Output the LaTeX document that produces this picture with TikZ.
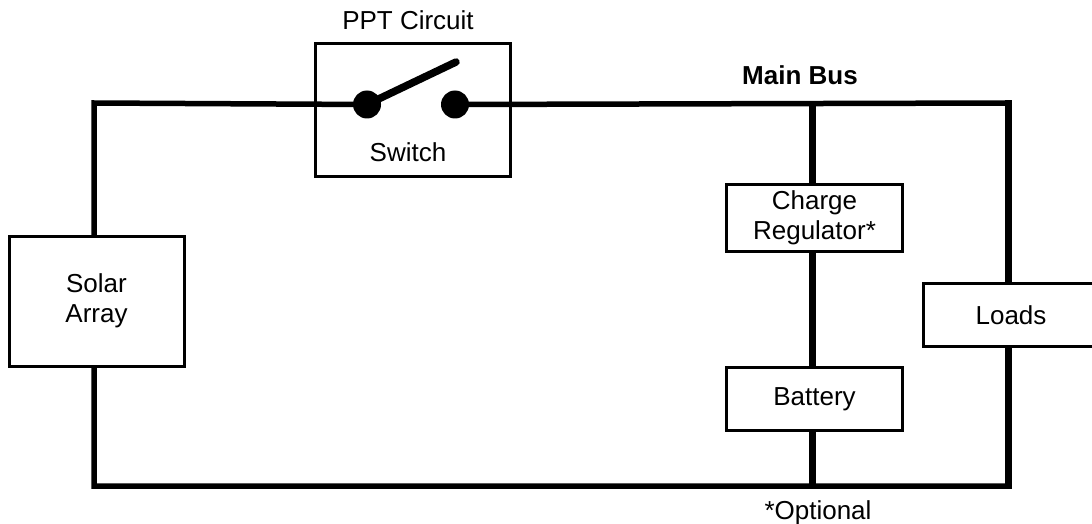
\documentclass[tikz,border=0pt]{standalone}
\usepackage{fontspec}
\setmainfont{Liberation Sans}
\begin{document}
\begin{tikzpicture}[x=1pt,y=-1pt,
 wire/.style={line width=5.5pt,line cap=butt,line join=miter,black},
 widewire/.style={line width=7pt,line cap=butt,black},
 box/.style={draw=black,line width=3pt,fill=white,inner sep=0pt,align=center,font=\fontsize{26}{30}\selectfont},
 lab/.style={inner sep=0pt,anchor=base,font=\fontsize{26}{30}\selectfont},
 term/.style={circle,fill=black,inner sep=0pt,minimum size=28pt}]
\useasboundingbox (0,0) rectangle (1092,524);
\node[box,minimum width=195pt,minimum height=132pt] (ppt) at (413,110) {};
\node[term] (t1) at (367,104.5) {};
\node[term] (t2) at (455,104.5) {};
\coordinate (tl) at (94,103);
\coordinate (tr) at (1008,103);
\coordinate (bl) at (94,486);
\coordinate (br) at (1008,486);
\coordinate (tb) at (812,103);
\coordinate (bb) at (812,486);
\draw[wire] (t1.center) -- (tl) -- (bl) -- (br) -- (tr) -- (t2.center);
\draw[widewire] (tb) -- (bb);
\draw[widewire,shorten <=-2.75pt,shorten >=-2.75pt] (tr) -- (br);
\coordinate (sw) at (456,62);
\draw[line width=7.5pt,line cap=round] (t1.center) -- (sw);
\node[lab] (swl) at (408,161) {Switch};
\node[lab] (pptl) at (408,30) {PPT Circuit};
\node[lab,font=\fontsize{26}{30}\selectfont\bfseries] (mb) at (800,85) {Main Bus};
\node[box,minimum width=175pt,minimum height=130pt] (sa) at (96.5,301) {Solar\\Array};
\node[box,minimum width=176pt,minimum height=67pt] (cr) at (814.5,217.5) {Charge\\Regulator*};
\node[box,minimum width=176pt,minimum height=63pt] (bat) at (814.5,399) {Battery};
\node[box,minimum width=176pt,minimum height=63pt] (ld) at (1011,315) {Loads};
\node[lab] (opt) at (818,519) {*Optional};
\end{tikzpicture}
\end{document}
